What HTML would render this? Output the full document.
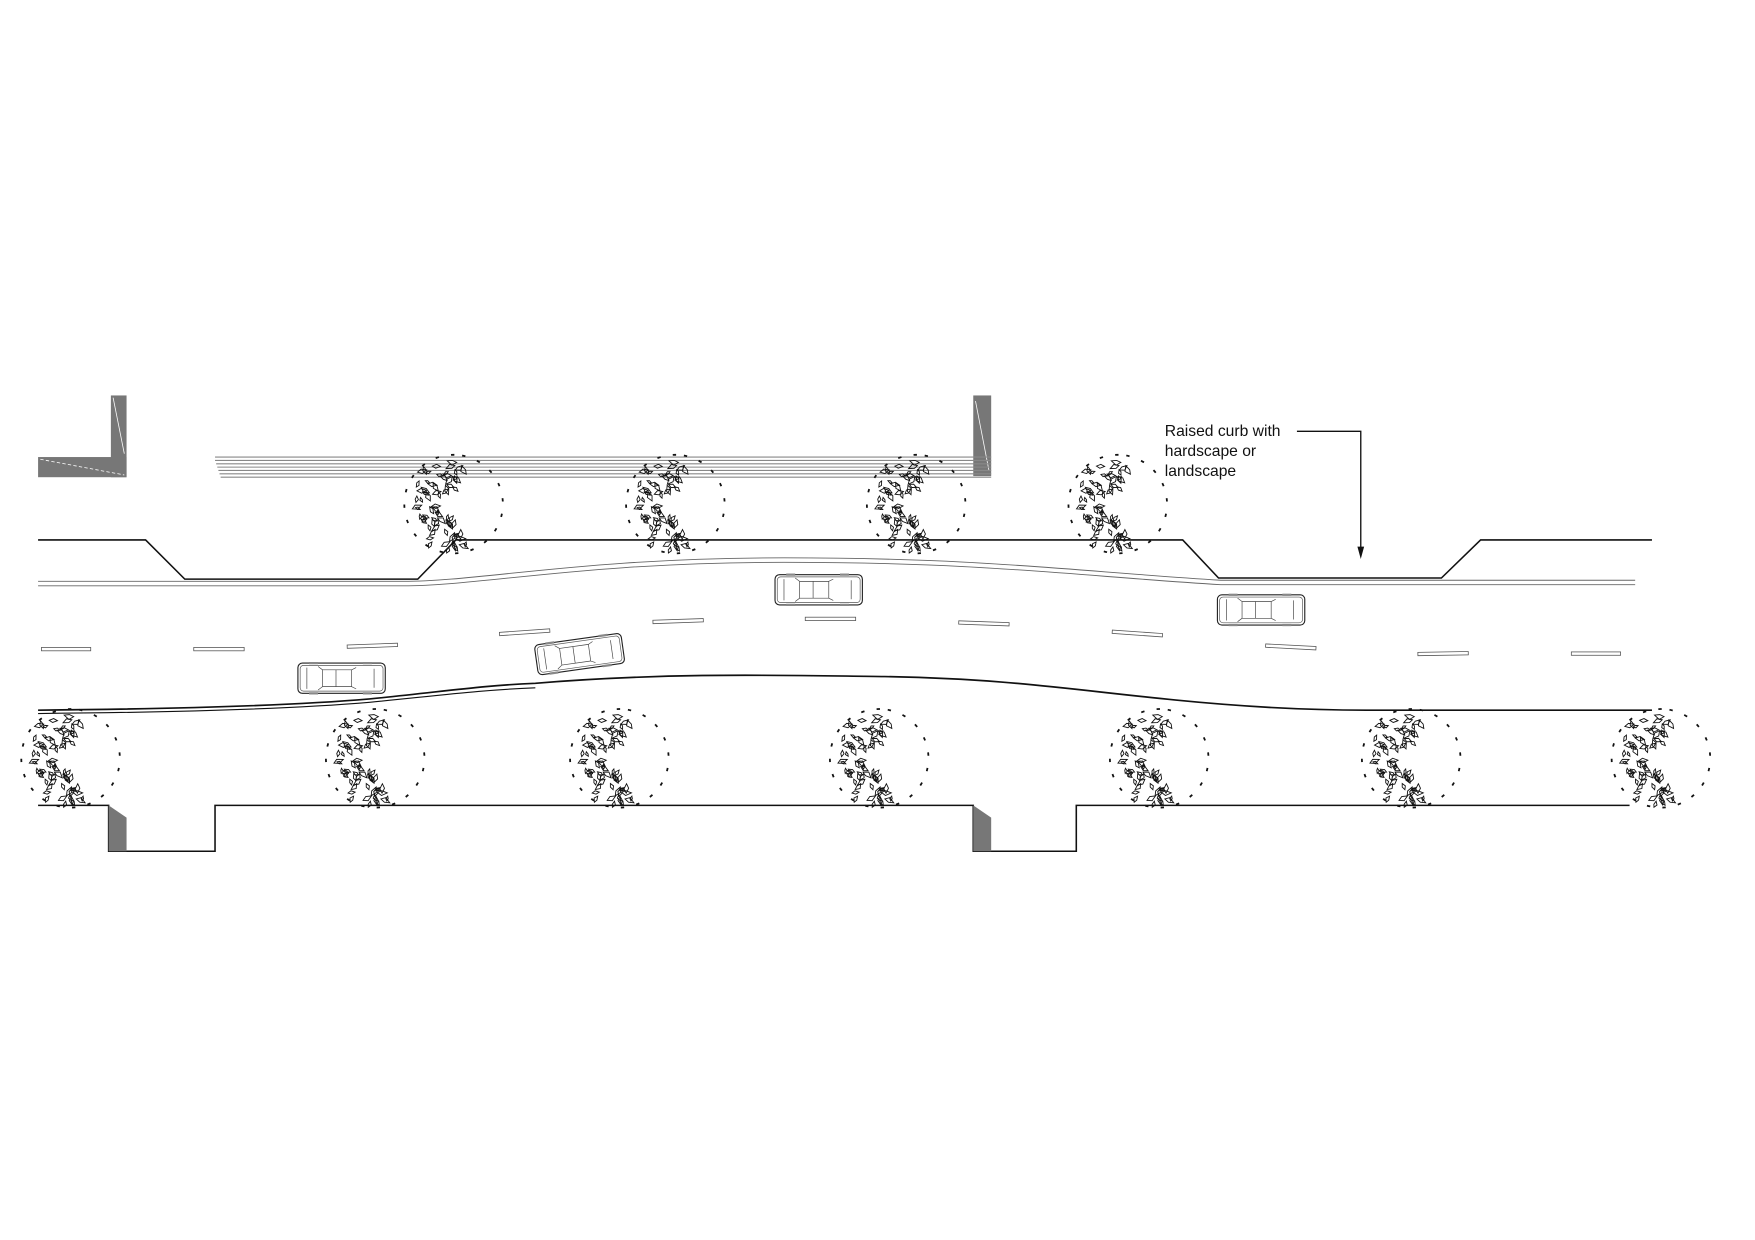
<!DOCTYPE html>
<html><head><meta charset="utf-8"><style>
html,body{margin:0;padding:0;background:#fff;}
svg{display:block;}
text{font-family:"Liberation Sans",Arial,sans-serif;font-size:14px;fill:#111;}
</style></head><body>
<svg id="s" width="1755" height="1240" viewBox="0 0 1567 1107" xmlns="http://www.w3.org/2000/svg">
<defs>
<g id="car">
<rect x="0" y="0" width="78" height="27" rx="4" fill="#fff" stroke="#222" stroke-width="1"/>
<rect x="2" y="2" width="74" height="23" rx="3" fill="none" stroke="#555" stroke-width="0.6"/>
<path d="M18 3 L22 6 L22 21 L18 24 M52 4 L48 6 L48 21 L52 23 M22 6 L48 6 M22 21 L48 21 M34 6 L34 21 M8 4 L8 23 M68 5 L68 22" fill="none" stroke="#444" stroke-width="0.6"/>
<rect x="10" y="-1" width="8" height="2" fill="#888"/><rect x="10" y="26" width="8" height="2" fill="#888"/>
<rect x="58" y="-1" width="8" height="2" fill="#888"/><rect x="58" y="26" width="8" height="2" fill="#888"/>
</g>
<g id="tree"><g id="treeleaves"></g>
<circle cx="0" cy="0" r="44" fill="none" stroke="#111" stroke-width="1.6" stroke-dasharray="3 11" transform="rotate(-80)"/>
</g>
</defs>
<rect x="99" y="353" width="14" height="73" fill="#777"/>
<rect x="34" y="408" width="79" height="18" fill="#777"/>
<line x1="36" y1="410" x2="111" y2="424" stroke="#fff" stroke-width="0.7" stroke-dasharray="3 2"/>
<line x1="101" y1="355" x2="111" y2="405" stroke="#fff" stroke-width="0.7"/>
<rect x="869" y="353" width="16" height="72" fill="#777"/>
<line x1="871" y1="358" x2="883" y2="420" stroke="#fff" stroke-width="0.7"/>
<g stroke="#888" stroke-width="1">
<line x1="192" y1="408" x2="885" y2="408"/><line x1="192" y1="411" x2="885" y2="411"/>
<line x1="193" y1="414" x2="885" y2="414"/><line x1="194" y1="417" x2="885" y2="417"/>
<line x1="195" y1="420" x2="885" y2="420"/><line x1="196" y1="423" x2="885" y2="423"/>
<line x1="197" y1="426" x2="885" y2="426"/>
</g>
<polyline points="34,482 130,482 165,517 373,517 407,482 1056,482 1088,516 1287,516 1322,482 1475,482" fill="none" stroke="#111" stroke-width="1.4"/>
<path d="M34 519 L360 519 C430 519 520 498 700 498 C880 498 960 510 1090 518 L1460 518" fill="none" stroke="#666" stroke-width="0.8"/>
<path d="M34 523 L360 523 C430 523 520 502 700 502 C880 502 960 514 1090 522 L1460 522" fill="none" stroke="#666" stroke-width="0.8"/>
<g fill="#fff" stroke="#555" stroke-width="0.7">
<rect x="37" y="578" width="44" height="3"/>
<rect x="173" y="578" width="45" height="3"/>
<rect x="310" y="575" width="45" height="3" transform="rotate(-2 332 577)"/>
<rect x="446" y="563" width="45" height="3" transform="rotate(-4 468 565)"/>
<rect x="583" y="553" width="45" height="3" transform="rotate(-2 605 555)"/>
<rect x="719" y="551" width="45" height="3"/>
<rect x="856" y="555" width="45" height="3" transform="rotate(2 878 557)"/>
<rect x="993" y="564" width="45" height="3" transform="rotate(4 1015 566)"/>
<rect x="1130" y="576" width="45" height="3" transform="rotate(3 1152 578)"/>
<rect x="1266" y="582" width="45" height="3" transform="rotate(-1 1288 584)"/>
<rect x="1403" y="582" width="44" height="3"/>
</g>
<path d="M34 634 C150 633 260 630 330 624 C400 617 430 612 478 610 C600 600 700 603 790 604 C900 606 950 615 1050 625 C1130 633 1190 634 1220 634 L1475 634" fill="none" stroke="#111" stroke-width="1.5"/>
<path d="M34 637 C150 636 260 633 330 627 C400 620 430 616 478 614" fill="none" stroke="#111" stroke-width="1"/>
<polyline points="34,719 97,719 97,760 192,760 192,719 869,719 869,760 961,760 961,719 1455,719" fill="none" stroke="#111" stroke-width="1.4"/>
<polygon points="97,719 113,730 113,760 97,760" fill="#777"/>
<polygon points="869,719 885,730 885,760 869,760" fill="#777"/>
<use href="#car" transform="translate(692,513)"/>
<use href="#car" transform="translate(1087,531)"/>
<use href="#car" transform="translate(266,592)"/>
<use href="#car" transform="translate(477,576) rotate(-8)"/>
<g id="trees">
<use href="#tree" x="405" y="450"/><use href="#tree" x="603" y="450"/>
<use href="#tree" x="818" y="450"/><use href="#tree" x="998" y="450"/>
<use href="#tree" x="63" y="677"/><use href="#tree" x="335" y="677"/>
<use href="#tree" x="553" y="677"/><use href="#tree" x="785" y="677"/>
<use href="#tree" x="1035" y="677"/><use href="#tree" x="1260" y="677"/>
<use href="#tree" x="1483" y="677"/>
</g>
<text x="1040" y="389">Raised curb with</text>
<text x="1040" y="407">hardscape or</text>
<text x="1040" y="425">landscape</text>
<polyline points="1158,385 1215,385 1215,492" fill="none" stroke="#111" stroke-width="1.2"/>
<polygon points="1212,488 1218,488 1215,499" fill="#111"/>
</svg>
<script>
(function(){
var g=document.getElementById('treeleaves');var seed=12345;
function r(){seed=(seed*16807)%2147483647;return seed/2147483647;}
var h='';
for(var i=0;i<75;i++){
 var a=Math.PI*(0.35+1.3*r());var d=12+30*r();
 var x=Math.cos(a)*d*0.85-4,y=-Math.sin(a)*d;
 if(x>22)continue;
 var s=1.8+2*r(),t=r()*6.28;
 var p=[];for(var k=0;k<4;k++){var an=t+k*1.57+(r()-.5)*.6;var rr=s*(k%2?0.6:1.2);p.push((x+Math.cos(an)*rr).toFixed(1)+','+(y+Math.sin(an)*rr).toFixed(1));}
 h+='<polygon points="'+p.join(' ')+'" fill="none" stroke="#111" stroke-width="0.8"/>';
}
g.innerHTML=h;
})();
</script>
</body></html>
